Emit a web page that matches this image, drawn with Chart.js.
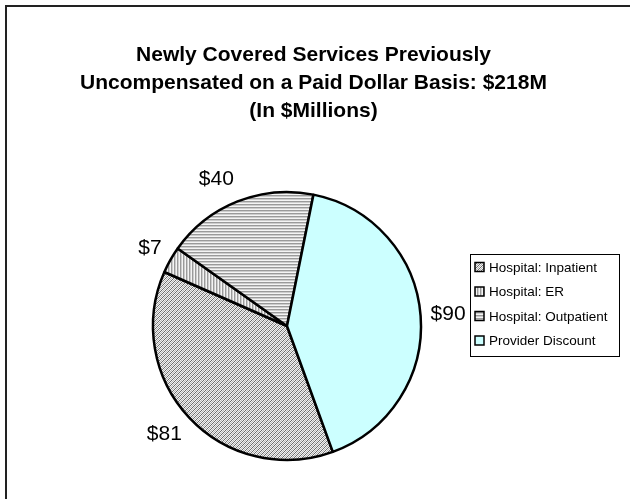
<!DOCTYPE html>
<html>
<head>
<meta charset="utf-8">
<script src="https://cdn.jsdelivr.net/npm/chart.js@4.4.0/dist/chart.umd.min.js"></script>
<style>
html, body { margin: 0; padding: 0; background: #fff; }
</style>
</head>
<body>
<canvas id="pie_chart" width="630" height="499"></canvas>
<script>
// DATA
var categories = ['Hospital: Inpatient', 'Hospital: ER', 'Hospital: Outpatient', 'Provider Discount'];
var values = [81, 7, 40, 90];
var valueLabels = ['$81', '$7', '$40', '$90'];
var titleLines = [
	'Newly Covered Services Previously',
	'Uncompensated on a Paid Dollar Basis: $218M',
	'(In $Millions)'
];

var FONT = '"Liberation Sans", Arial, Helvetica, sans-serif';

// HATCH FILLS LIKE THE OLD EXCEL ONES
function makePattern(kind) {
	var c = document.createElement('canvas');
	var g = c.getContext('2d');
	if (kind === 'diag') {
		c.width = c.height = 4;
		g.fillStyle = '#f2f2f2';
		g.fillRect(0, 0, 4, 4);
		for (var i = 0; i < 4; i++) {
			g.fillStyle = '#6c6c6c';
			g.fillRect(i, 3 - i, 1, 1);
			g.fillStyle = '#b4b4b4';
			g.fillRect(i, (5 - i) % 4, 1, 1);
		}
	} else {
		c.width = c.height = 3;
		var shades = ['#9a9a9a', '#cdcdcd', '#f4f4f4'];
		for (var j = 0; j < 3; j++) {
			g.fillStyle = shades[j];
			if (kind === 'vert') g.fillRect(j, 0, 1, 3);
			else g.fillRect(0, j, 3, 1);
		}
	}
	return g.createPattern(c, 'repeat');
}

var ctx = document.getElementById('pie_chart').getContext('2d');
var fills = [makePattern('diag'), makePattern('vert'), makePattern('horiz'), '#ccffff'];

// FRAME LINES (TOP + LEFT)
var framePlugin = {
	id: 'frame',
	beforeDraw: function(chart) {
		var c = chart.ctx;
		c.save();
		c.fillStyle = '#fff';
		c.fillRect(0, 0, chart.width, chart.height);
		c.strokeStyle = '#222';
		c.lineWidth = 2;
		c.beginPath();
		c.moveTo(6, chart.height);
		c.lineTo(6, 6);
		c.lineTo(chart.width, 6);
		c.stroke();
		c.restore();
	}
};

// EMPTY BOX ON THE RIGHT SO THE PIE SITS LEFT OF THE TITLE CENTER
var spacerPlugin = {
	id: 'spacer',
	beforeInit: function(chart) {
		Chart.layouts.addBox(chart, {
			position: 'right',
			weight: 0,
			fullSize: false,
			options: {},
			isHorizontal: function() { return false; },
			update: function(maxWidth, maxHeight) {
				this.width = 53;
				this.height = maxHeight;
			},
			getPadding: function() { return { left: 0, right: 0, top: 0, bottom: 0 }; },
			draw: function() {}
		});
	}
};

// VALUE LABELS OUTSIDE THE SLICES (EXCEL STYLE: NEAR EDGE TOUCHES THE ANCHOR)
var labelPlugin = {
	id: 'sliceLabels',
	afterDatasetsDraw: function(chart) {
		var c = chart.ctx;
		var arcs = chart.getDatasetMeta(0).data;
		c.save();
		c.font = '21px ' + FONT;
		c.fillStyle = '#000';
		c.textAlign = 'center';
		c.textBaseline = 'middle';
		arcs.forEach(function(arc, i) {
			var mid = (arc.startAngle + arc.endAngle) / 2;
			var d = arc.outerRadius + 10;
			var cs = Math.cos(mid), sn = Math.sin(mid);
			var w = c.measureText(valueLabels[i]).width;
			var x = arc.x + cs * d + (cs >= 0 ? 1 : -1) * w / 2;
			var y = arc.y + sn * d + sn * 14;
			c.fillText(valueLabels[i], x, y);
		});
		c.restore();
	}
};

// BOXED LEGEND
var legendPlugin = {
	id: 'boxLegend',
	afterDraw: function(chart) {
		var c = chart.ctx;
		var bx = 470, by = 254, bw = 149, bh = 102;
		c.save();
		c.fillStyle = '#fff';
		c.fillRect(bx, by, bw, bh);
		c.strokeStyle = '#000';
		c.lineWidth = 1;
		c.strokeRect(bx + 0.5, by + 0.5, bw, bh);
		c.font = '13.5px ' + FONT;
		c.textBaseline = 'middle';
		c.textAlign = 'left';
		chart.data.labels.forEach(function(lbl, i) {
			var cy = by + 13 + i * 24.5;
			c.fillStyle = chart.data.datasets[0].backgroundColor[i];
			c.fillRect(475, cy - 4.5, 9, 9);
			c.strokeStyle = '#000';
			c.lineWidth = 1.5;
			c.strokeRect(475, cy - 4.5, 9, 9);
			c.fillStyle = '#000';
			c.fillText(lbl, 489, cy + 1);
		});
		c.restore();
	}
};

var pieChart = new Chart(ctx, {
	type: 'pie',
	data: {
		labels: categories,
		datasets: [{
			data: values,
			backgroundColor: fills,
			borderColor: '#000',
			borderWidth: 2.5,
			radius: 134
		}]
	},
	options: {
		responsive: false,
		animation: false,
		rotation: 160,
		layout: {
			padding: { left: 0, right: 3, top: 0, bottom: 2 }
		},
		plugins: {
			title: {
				display: true,
				text: titleLines,
				color: '#000',
				font: { family: FONT, size: 21, weight: 'bold', lineHeight: 28 / 21 },
				padding: { top: 41, bottom: 30 }
			},
			legend: { display: false },
			tooltip: { enabled: false }
		}
	},
	plugins: [framePlugin, spacerPlugin, labelPlugin, legendPlugin]
});
</script>
</body>
</html>
